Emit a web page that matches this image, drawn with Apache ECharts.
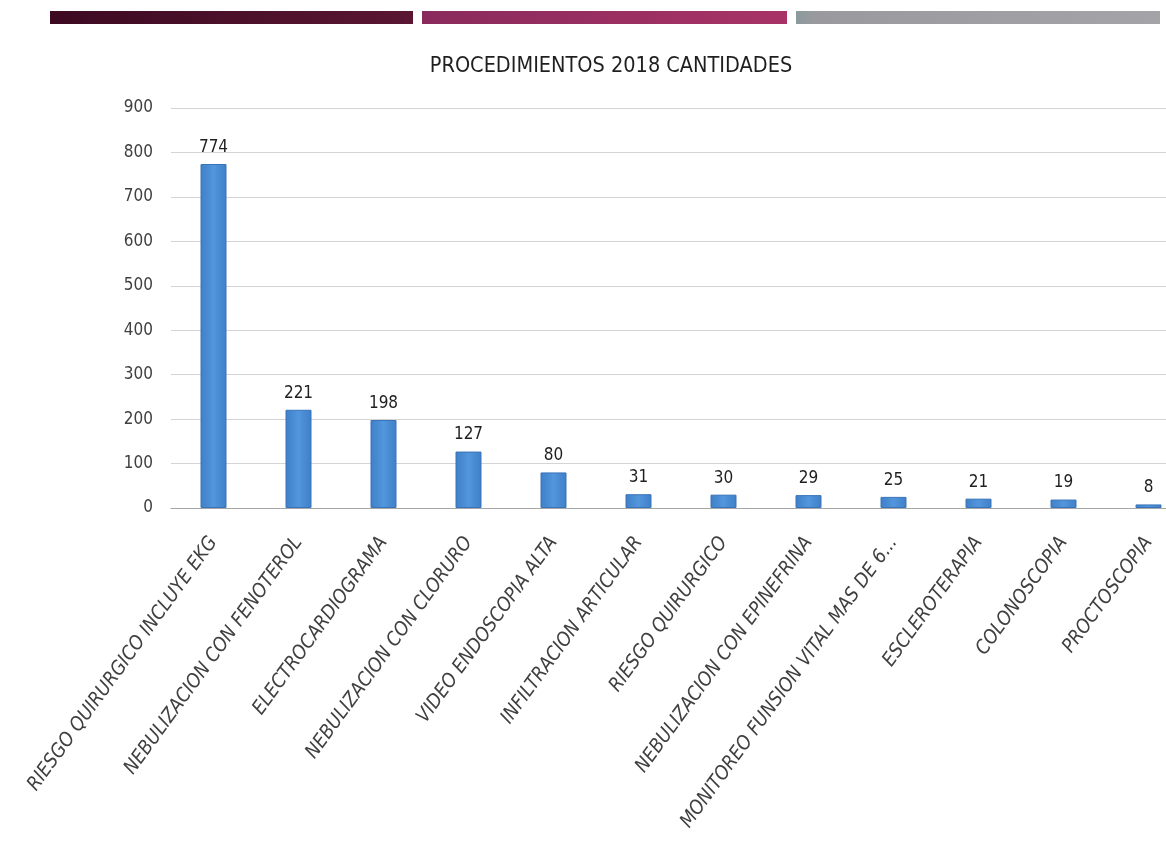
<!DOCTYPE html>
<html>
<head>
<meta charset="utf-8">
<script src="https://cdn.jsdelivr.net/npm/echarts@6/dist/echarts.min.js"></script>
<style>
  html, body { margin: 0; padding: 0; background: #ffffff; }
  #chart { width: 1166px; height: 852px; }
</style>
</head>
<body>
<div id="chart"></div>
<script>
// Procedures performed in 2018 (counts)
const categories = [
  'RIESGO QUIRURGICO INCLUYE EKG',
  'NEBULIZACION CON FENOTEROL',
  'ELECTROCARDIOGRAMA',
  'NEBULIZACION CON CLORURO',
  'VIDEO ENDOSCOPIA ALTA',
  'INFILTRACION ARTICULAR',
  'RIESGO QUIRURGICO',
  'NEBULIZACION CON EPINEFRINA',
  'MONITOREO FUNSION VITAL MAS DE 6...',
  'ESCLEROTERAPIA',
  'COLONOSCOPIA',
  'PROCTOSCOPIA'
];
const cantidades = [774, 221, 198, 127, 80, 31, 30, 29, 25, 21, 19, 8];
const yTicks = { min: 0, max: 900, interval: 100 };

const FONT = '"Liberation Sans Narrow", "DejaVu Sans Condensed", "Open Sans", sans-serif';
const TEXT = '#404040';

const chart = echarts.init(document.getElementById('chart'), null, { renderer: 'canvas' });

chart.setOption({
  backgroundColor: '#ffffff',
  animation: false,
  title: {
    text: 'PROCEDIMIENTOS 2018 CANTIDADES',
    left: 606,
    textAlign: 'center',
    top: 50,
    textStyle: { fontFamily: FONT, fontSize: 21.5, fontWeight: 'normal', color: '#1f1f1f' }
  },
  // header stripes
  graphic: [
    { type: 'rect', shape: { x: 50, y: 11, width: 363, height: 13 },
      style: { fill: new echarts.graphic.LinearGradient(0, 0, 1, 0, [
        { offset: 0, color: '#3d0a22' }, { offset: 1, color: '#5a1633' }]) } },
    { type: 'rect', shape: { x: 422, y: 11, width: 365, height: 13 },
      style: { fill: new echarts.graphic.LinearGradient(0, 0, 1, 0, [
        { offset: 0, color: '#8a2a5c' }, { offset: 1, color: '#a83366' }]) } },
    { type: 'rect', shape: { x: 796, y: 11, width: 364, height: 13 },
      style: { fill: new echarts.graphic.LinearGradient(0, 0, 1, 0, [
        { offset: 0, color: '#8a9a9c' }, { offset: 0.05, color: '#9a9a9e' }, { offset: 1, color: '#a4a4a8' }]) } }
  ],
  grid: { left: 171, top: 108, width: 1020, height: 400, containLabel: false, outerBoundsMode: 'none' },
  xAxis: {
    type: 'category',
    data: categories,
    axisLine: { show: true, lineStyle: { color: '#a6a6a6', width: 1 } },
    axisTick: { show: false },
    axisLabel: {
      rotate: 54,
      interval: 0,
      margin: 31,
      fontFamily: FONT,
      fontStyle: 'italic',
      fontSize: 19.5,
      color: TEXT
    }
  },
  yAxis: {
    type: 'value',
    min: yTicks.min,
    max: yTicks.max,
    interval: yTicks.interval,
    axisLine: { show: false },
    axisTick: { show: false },
    axisLabel: { fontFamily: FONT, fontSize: 17, color: TEXT, margin: 18 },
    splitLine: { lineStyle: { color: '#d4d4d4', width: 1 } }
  },
  series: [{
    type: 'bar',
    data: cantidades,
    barWidth: 26,
    itemStyle: {
      color: new echarts.graphic.LinearGradient(0, 0, 1, 0, [
        { offset: 0, color: '#3f7fc8' },
        { offset: 0.5, color: '#5296dc' },
        { offset: 1, color: '#3f7fc8' }
      ]),
      borderColor: '#3a74b8',
      borderWidth: 1
    },
    label: {
      show: true,
      position: 'top',
      distance: 8,
      fontFamily: FONT,
      fontSize: 17,
      color: '#1f1f1f'
    }
  }]
});
</script>
</body>
</html>
